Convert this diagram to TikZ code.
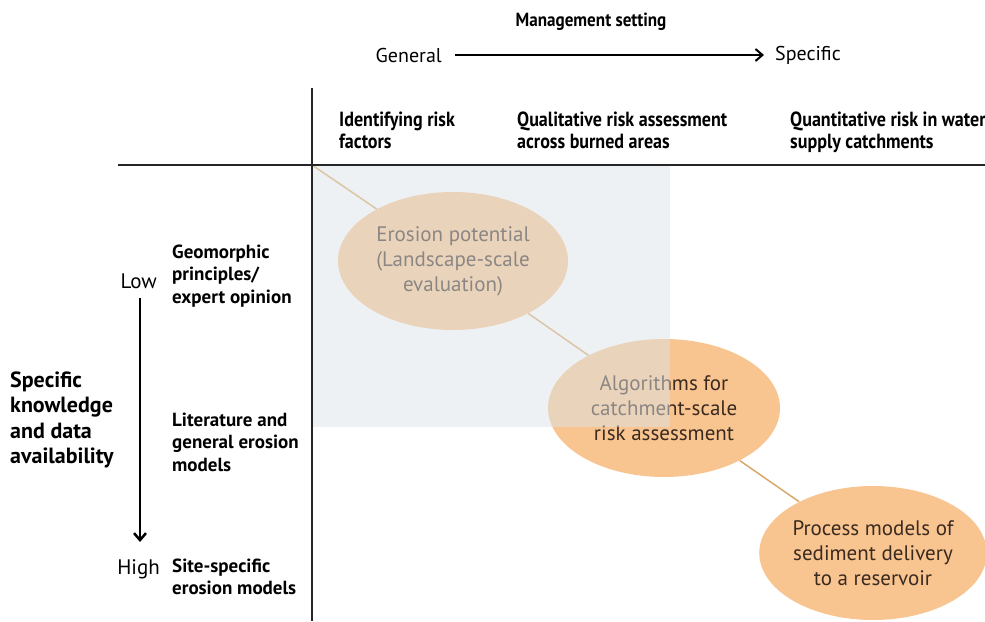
\documentclass[tikz,border=0pt]{standalone}
\usepackage{fontspec}
\setmainfont{PT Sans}
\usetikzlibrary{shapes.geometric,arrows.meta,backgrounds}
\definecolor{peach}{HTML}{F8C490}
\definecolor{linec}{HTML}{D9A868}
\definecolor{ovl}{HTML}{DDE3E7}
\definecolor{txt}{HTML}{3A2A20}
\begin{document}
\begin{tikzpicture}[x=1pt,y=-1pt,
  hdr/.style={font=\fontsize{20.5}{22}\selectfont\bfseries\addfontfeature{FakeStretch=0.88}, align=left, anchor=north west, inner sep=0},
  toplab/.style={font=\fontsize{20}{22}\selectfont, inner sep=0},
  rowlab/.style={font=\fontsize{19}{22.5}\selectfont\bfseries, align=left, anchor=west, inner sep=0},
  lvl/.style={font=\fontsize{21}{22}\selectfont, inner sep=0},
  blob/.style={ellipse, fill=peach, minimum width=230, minimum height=138, inner sep=0, align=center, font=\fontsize{21}{25}\selectfont, text=txt},
  axis/.style={line width=1.4pt, black!85},
  conn/.style={linec, line width=1.5pt},
  bigarrow/.style={line width=2pt, -{Straight Barb[length=7pt,width=12pt]}}]
\clip (0,0) rectangle (985,621);
% title and horizontal arrow
\node[toplab, font=\fontsize{19}{22}\selectfont\bfseries\addfontfeature{FakeStretch=0.9}] (ms) at (591,22) {Management setting};
\node[toplab, anchor=east] (gen) at (442,55) {General};
\node[toplab, anchor=west] (spec) at (775,55) {Specific};
\draw[bigarrow, shorten <=13pt, shorten >=11pt] (gen) -- (spec);
% axes
\coordinate (vtop) at (312,88);
\coordinate (vbot) at (312,621);
\coordinate (hl) at (118,165);
\coordinate (hr) at (985,165);
\coordinate (corner) at (312,165);
\draw[axis] (vtop) -- (vbot);
\draw[axis] (hl) -- (hr);
% column headers
\node[hdr] (c1) at (339,112) {Identifying risk\\factors};
\node[hdr] (c2) at (517,112) {Qualitative risk assessment\\across burned areas};
\node[hdr] (c3) at (790,112) {Quantitative risk in water\\supply catchments};
% row labels
\node[rowlab] (r1) at (172,276) {Geomorphic\\principles/\\expert opinion};
\node[rowlab] (r2) at (172,442) {Literature and\\general erosion\\models};
\node[rowlab] (r3) at (172,577) {Site-specific\\erosion models};
\node[lvl, anchor=east] (low) at (157,281) {Low};
\node[lvl, anchor=east] (high) at (160,569) {High};
\coordinate (at) at (140,298);
\coordinate (ab) at (140,542);
\draw[bigarrow, line width=2.5pt] (at) -- (ab);
\node[font=\fontsize{22}{25.5}\selectfont\bfseries, align=left, anchor=west, inner sep=0] (ax) at (10,420) {Specific\\knowledge\\and data\\availability};
% ellipses
\node[blob] (e1) at (453,261) {Erosion potential\\(Landscape-scale\\evaluation)};
\node[blob, minimum width=232] (e2) at (664,408) {Algorithms for\\catchment-scale\\risk assessment};
\node[blob, minimum width=226, minimum height=134] (e3) at (873,553) {Process models of\\sediment delivery\\to a reservoir};
\begin{scope}[on background layer]
\draw[conn] (corner) -- (e1);
\draw[conn] (e1) -- (e2);
\draw[conn] (e2) -- (e3);
\end{scope}
% translucent overlay
\fill[ovl, opacity=0.5] (313,166) rectangle (670,427);
\end{tikzpicture}
\end{document}
